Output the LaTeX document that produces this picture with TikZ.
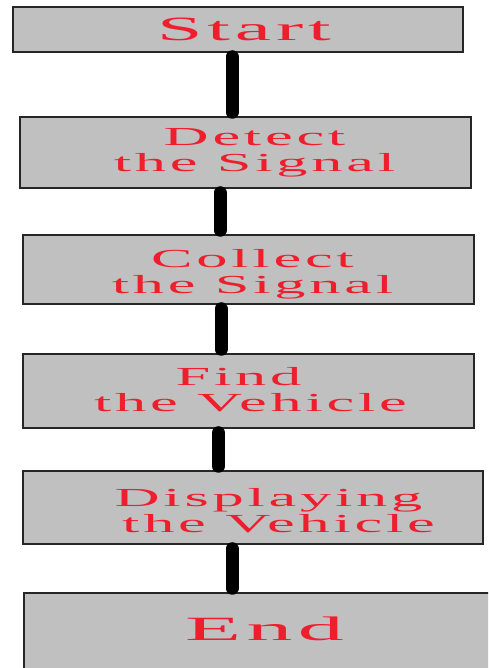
\documentclass[tikz,border=0pt]{standalone}
\usepackage{fontspec}
\usepackage{graphicx}
\newfontfamily\boxfont{Liberation Serif}[LetterSpace=6]
\newcommand\wide[1]{\scalebox{2.4}[1]{#1}}
\newcommand\wider[1]{\scalebox{2.7}[1]{#1}}
\definecolor{boxgray}{RGB}{192,192,192}
\definecolor{boxred}{RGB}{238,30,45}
\begin{document}
\begin{tikzpicture}[x=1pt,y=1pt,
  stepbox/.style={draw=black!85, line width=1.5pt, fill=boxgray, inner sep=0pt},
  steptext/.style={text=boxred, align=center, inner sep=0pt,
    font=\boxfont\fontsize{26}{26}\selectfont},
  bigtext/.style={steptext, font=\boxfont\fontsize{34}{34}\selectfont},
  link/.style={line width=13pt, line cap=round, shorten >=4pt, shorten <=4pt}]
\clip (0,0) rectangle (488,668);
\fill[white] (0,0) rectangle (488,668);

% boxes
\node[stepbox, minimum width=450pt, minimum height=45pt] (start) at (238,638.5) {};
\node[stepbox, minimum width=451pt, minimum height=71pt] (detect) at (245.5,515.5) {};
\node[stepbox, minimum width=451pt, minimum height=69pt] (collect) at (248.5,398.5) {};
\node[stepbox, minimum width=451pt, minimum height=74pt] (find) at (248.5,277) {};
\node[stepbox, minimum width=460pt, minimum height=73pt] (disp) at (253,160.5) {};
\node[stepbox, minimum width=480pt, minimum height=97pt] (end) at (264,26.5) {};

% connectors (vertical bars between the boxes)
\draw[link] ([xshift=-6pt]start.south) -- ([xshift=-6pt]start.south |- detect.north);
\draw[link] ([xshift=-25.5pt]detect.south) -- ([xshift=-25.5pt]detect.south |- collect.north);
\draw[link] ([xshift=-27.5pt]collect.south) -- ([xshift=-27.5pt]collect.south |- find.north);
\draw[link] ([xshift=-30pt]find.south) -- ([xshift=-30pt]find.south |- disp.north);
\draw[link] ([xshift=-21pt]disp.south) -- ([xshift=-21pt]disp.south |- end.north);

% labels
\node[bigtext] (start-t) at ([xshift=6pt]start.center) {\wide{Start}};
\node[steptext] (detect-t) at ([xshift=9pt]detect.center) {\wide{Detect}\\\wide{the Signal}};
\node[steptext] (collect-t) at ([xshift=4pt,yshift=-5pt]collect.center) {\wide{Collect}\\\wide{the Signal}};
\node[steptext] (find-t) at ([xshift=2pt,yshift=1pt]find.center) {\wide{Find}\hspace*{24pt}\\\wide{the Vehicle}};
\node[steptext] (disp-t) at ([xshift=25.5pt,yshift=-3.5pt]disp.center) {\wide{Displaying}\hspace*{20pt}\\\wide{the Vehicle}};
\node[bigtext] (end-t) at ([xshift=0.5pt,yshift=12.5pt]end.center) {\wider{End}};
\end{tikzpicture}
\end{document}
